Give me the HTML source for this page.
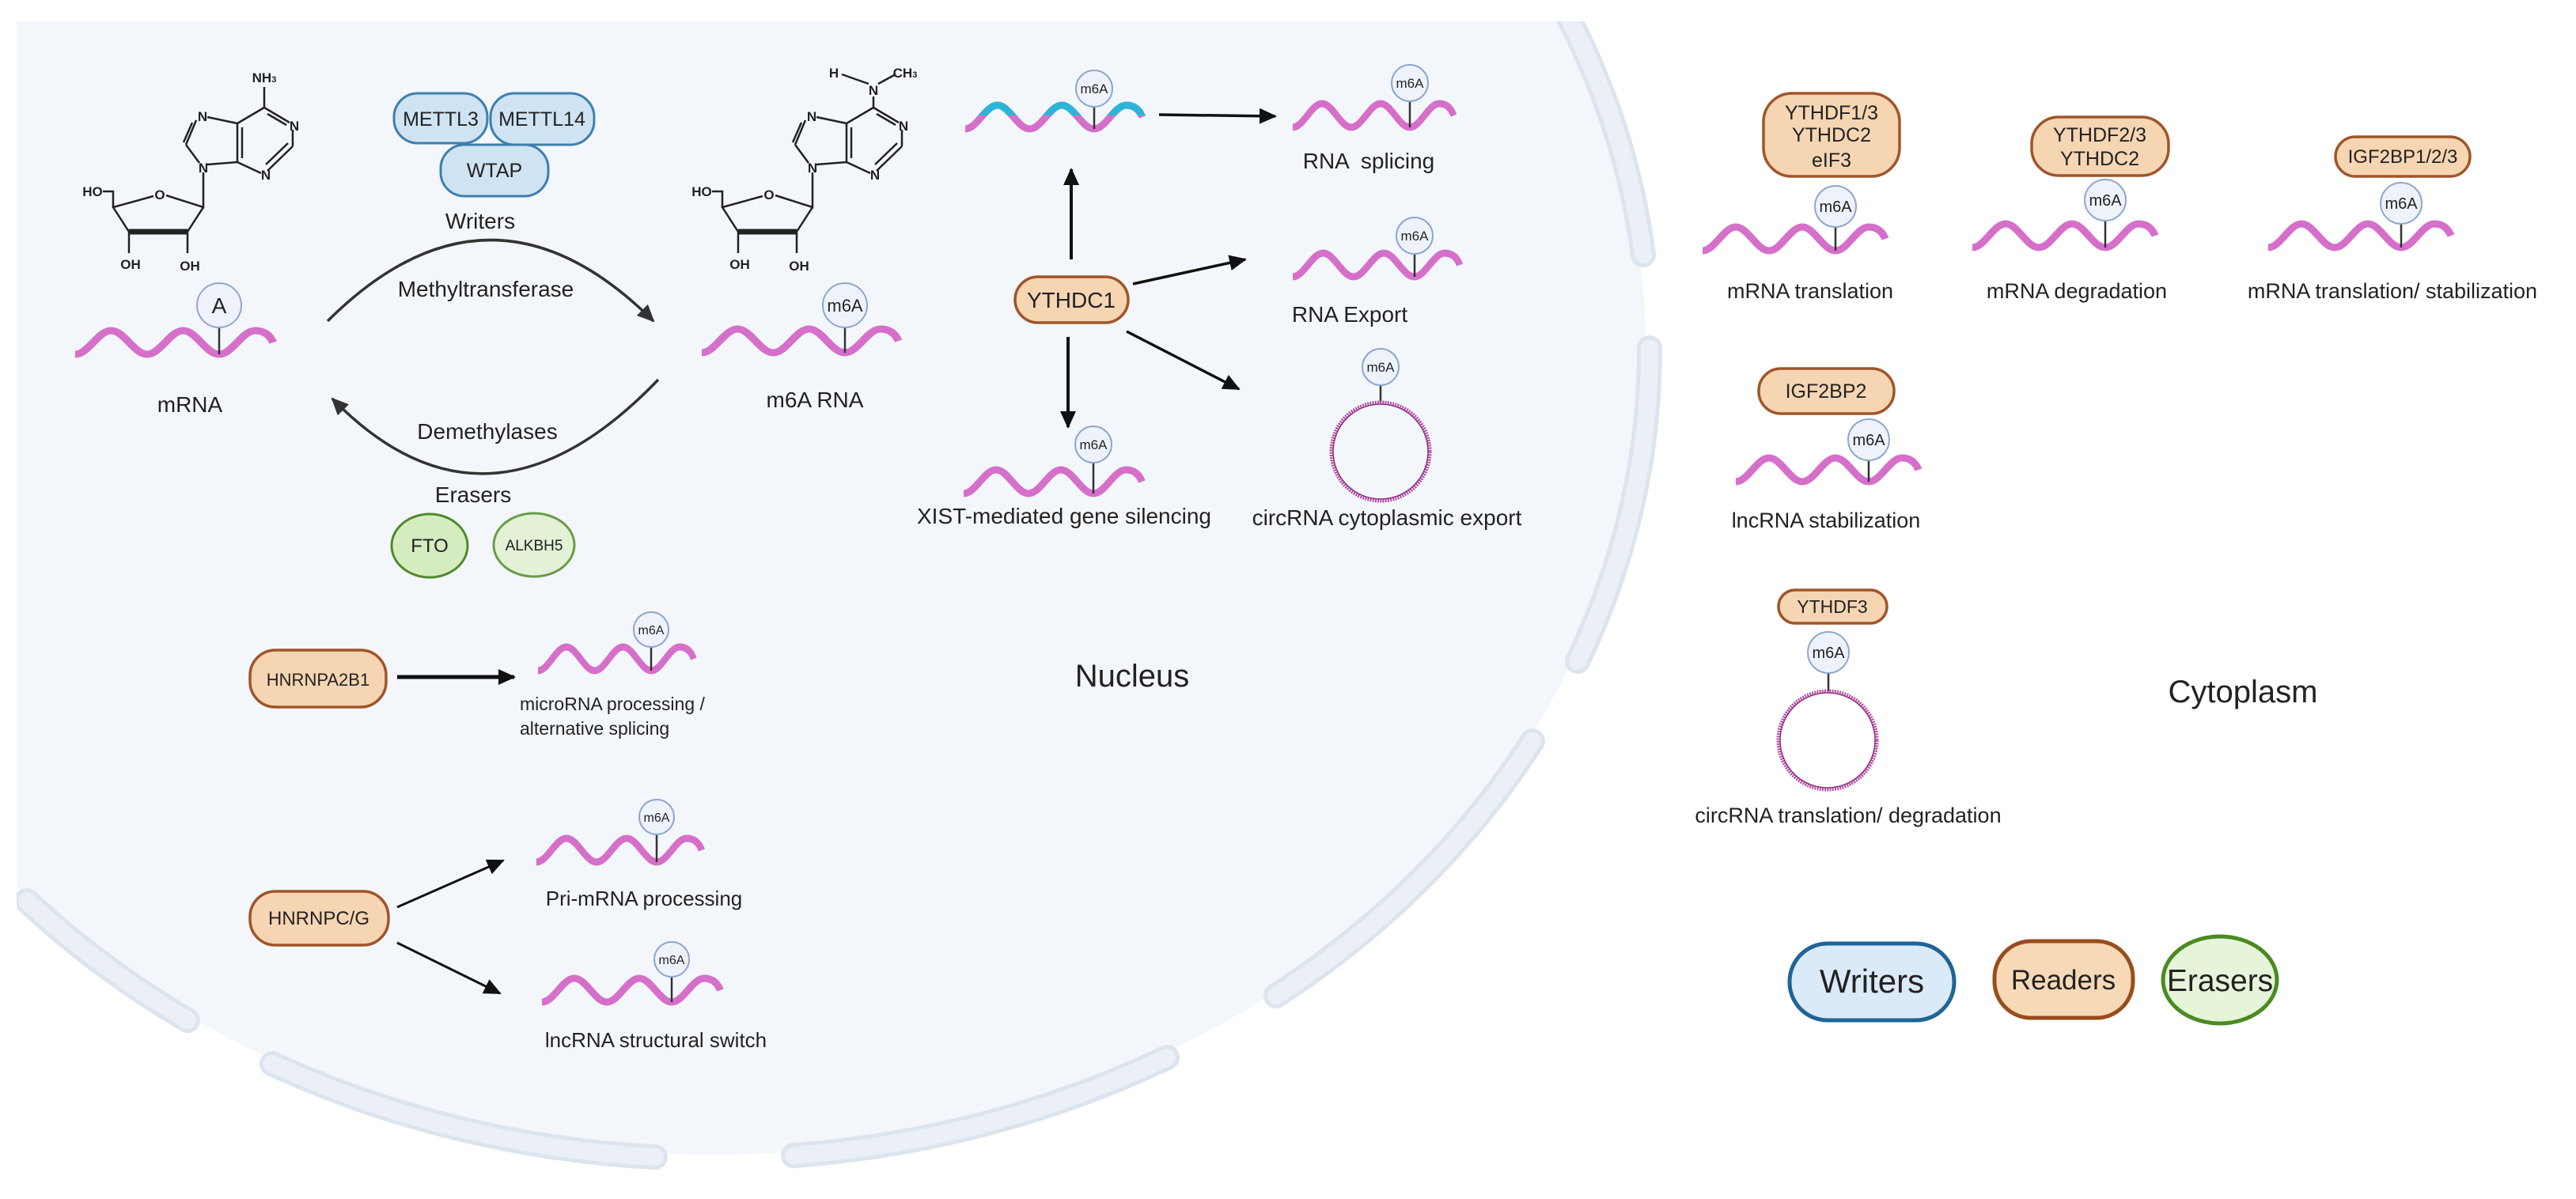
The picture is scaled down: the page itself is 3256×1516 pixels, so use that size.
<!DOCTYPE html>
<html><head><meta charset="utf-8"><style>
html,body{margin:0;padding:0;background:#fff;}
svg{display:block;}
text{font-family:"Liberation Sans",sans-serif;fill:#222;}
</style></head><body>
<svg width="3256" height="1516" viewBox="0 0 3256 1516" xmlns="http://www.w3.org/2000/svg">
<defs>
<clipPath id="nclip"><rect x="21" y="27" width="3235" height="1489"/></clipPath>
<clipPath id="upper"><rect x="-10" y="-40" width="260" height="38"/></clipPath>
<marker id="ah" markerUnits="userSpaceOnUse" markerWidth="26" markerHeight="22" refX="20" refY="10" orient="auto"><path d="M0,0 L22,10 L0,20 z" fill="#111"/></marker>
<marker id="ah2" markerUnits="userSpaceOnUse" markerWidth="26" markerHeight="22" refX="20" refY="10" orient="auto"><path d="M0,0 L22,10 L0,20 z" fill="#333"/></marker>
<path id="wv" d="M0 15 c14.4 0 25.6 -30 40 -30 s25.6 30 40 30 s25.6 -30 40 -30 s25.6 30 40 30 s25.6 -30 40 -30 q14 0 20 15"/>
</defs>

<!-- nucleus -->
<ellipse cx="900" cy="440" rx="1180" ry="1020" fill="#f3f7fb" clip-path="url(#nclip)"/>
<g fill="none" stroke-linecap="round" clip-path="url(#nclip)">
<g stroke="#dce5ee" stroke-width="32">
<path d="M237 1290 A1185 1025 0 0 1 34 1139"/>
<path d="M828 1463 A1185 1025 0 0 1 344 1345"/>
<path d="M1475 1337 A1185 1025 0 0 1 1003 1461"/>
<path d="M1937 937 A1185 1025 0 0 1 1613 1259"/>
<path d="M2085 440 A1185 1025 0 0 1 1994 836"/>
<path d="M1983 23 A1185 1025 0 0 1 2077 322"/>
</g>
<g stroke="#eaf0f5" stroke-width="22">
<path d="M237 1290 A1185 1025 0 0 1 34 1139"/>
<path d="M828 1463 A1185 1025 0 0 1 344 1345"/>
<path d="M1475 1337 A1185 1025 0 0 1 1003 1461"/>
<path d="M1937 937 A1185 1025 0 0 1 1613 1259"/>
<path d="M2085 440 A1185 1025 0 0 1 1994 836"/>
<path d="M1983 23 A1185 1025 0 0 1 2077 322"/>
</g>
</g>

<!-- chemical structures -->
<g id="chemL" stroke="#222" stroke-width="2.5" fill="none">
<path d="M300 156 L334 136 M334 136 L366 155 M338 144 L362 158 M370 164 L370 185 M370 185 L338 216 M364 181 L336 208 M330 219 L300 205 M300 205 L300 156 M306 200 L306 161 M300 156 L262 148 M248 152 L235 183 M243 155 L232 180 M235 183 L252 206 M262 208 L300 205 M334 136 L334 110"/>
<path d="M257 218 L257 262 L210 247 M194 248 L143 262 L163 293 M237 293 L257 262 M143 262 L143 242 L130 242 M163 293 L163 320 M237 293 L237 320"/>
<path d="M163 293 L237 293" stroke-width="7"/>
</g>
<g font-size="17" font-weight="bold" text-anchor="middle">
<text x="256" y="153">N</text><text x="372" y="165">N</text><text x="336" y="227">N</text><text x="257" y="218">N</text>
<text x="334" y="104">NH<tspan font-size="11">3</tspan></text>
<text x="202" y="252">O</text><text x="117" y="248">HO</text>
<text x="165" y="340">OH</text><text x="240" y="342">OH</text>
</g>
<g transform="translate(770,0)">
<g stroke="#222" stroke-width="2.5" fill="none">
<path d="M300 156 L334 136 M334 136 L366 155 M338 144 L362 158 M370 164 L370 185 M370 185 L338 216 M364 181 L336 208 M330 219 L300 205 M300 205 L300 156 M306 200 L306 161 M300 156 L262 148 M248 152 L235 183 M243 155 L232 180 M235 183 L252 206 M262 208 L300 205 M334 136 L334 122"/>
<path d="M328 106 L294 94 M340 106 L362 94"/>
<path d="M257 218 L257 262 L210 247 M194 248 L143 262 L163 293 M237 293 L257 262 M143 262 L143 242 L130 242 M163 293 L163 320 M237 293 L237 320"/>
<path d="M163 293 L237 293" stroke-width="7"/>
</g>
<g font-size="17" font-weight="bold" text-anchor="middle">
<text x="256" y="153">N</text><text x="372" y="165">N</text><text x="336" y="227">N</text><text x="257" y="218">N</text>
<text x="334" y="120">N</text><text x="284" y="98">H</text><text x="374" y="98">CH<tspan font-size="11">3</tspan></text>
<text x="202" y="252">O</text><text x="117" y="248">HO</text>
<text x="165" y="340">OH</text><text x="240" y="342">OH</text>
</g>
</g>

<!-- waves -->
<g fill="none" stroke="#d66fc9" stroke-width="9" stroke-linecap="butt">
<use href="#wv" transform="translate(95,433) scale(1.1375,1)"/>
<use href="#wv" transform="translate(887,431) scale(1.13,1)"/>
<use href="#wv" transform="translate(1220,148) scale(1.0175,1)"/>
<use href="#wv" transform="translate(1634,146) scale(0.925,1)"/>
<use href="#wv" transform="translate(1634,335) scale(0.96,1)"/>
<use href="#wv" transform="translate(1218,609) scale(1.025,1)"/>
<use href="#wv" transform="translate(680,833) scale(0.895,1)"/>
<use href="#wv" transform="translate(678,1075) scale(0.95,1)"/>
<use href="#wv" transform="translate(685,1252) scale(1.025,1)"/>
<use href="#wv" transform="translate(2152,302) scale(1.05,1)"/>
<use href="#wv" transform="translate(2493,298) scale(1.05,1)"/>
<use href="#wv" transform="translate(2867,298) scale(1.05,1)"/>
<use href="#wv" transform="translate(2194,594) scale(1.05,1)"/>
</g>
<g transform="translate(1220,148) scale(1.0175,1)" clip-path="url(#upper)">
<use href="#wv" fill="none" stroke="#2bb6d8" stroke-width="9"/>
</g>

<!-- stems -->
<g stroke="#333" stroke-width="2.5">
<path d="M277 414V448 M1068 414V446 M1383 135V163 M1782 128V161 M1788 321V350 M1382 585V624 M823 818V848 M830 1055V1090 M849 1235V1267 M2320 287V317 M2661 279V313 M3035 283V313 M2362 582V609 M2311 851V874 M1745 487V509"/>
</g>

<!-- circRNA -->
<g fill="none">
<circle cx="1745" cy="571" r="62" stroke="#b452a6" stroke-width="5" stroke-dasharray="2 1.2"/>
<circle cx="1745" cy="571" r="60" stroke="#8f2f80" stroke-width="1.5"/>
<circle cx="2310" cy="936" r="62" stroke="#b452a6" stroke-width="5" stroke-dasharray="2 1.2"/>
<circle cx="2310" cy="936" r="60" stroke="#8f2f80" stroke-width="1.5"/>
</g>

<!-- m6A circles -->
<g fill="#eef3fb" stroke="#8fa6cc" stroke-width="2">
<ellipse cx="277" cy="386" rx="28" ry="28"/>
<ellipse cx="1068" cy="386" rx="28" ry="28"/>
<circle cx="1383" cy="112" r="23"/>
<circle cx="1782" cy="105" r="23"/>
<circle cx="1788" cy="298" r="23"/>
<circle cx="1382" cy="562" r="23"/>
<circle cx="1745" cy="464" r="23"/>
<circle cx="823" cy="796" r="22"/>
<circle cx="830" cy="1033" r="22"/>
<circle cx="849" cy="1213" r="22"/>
<circle cx="2320" cy="261" r="26"/>
<circle cx="2661" cy="253" r="26"/>
<circle cx="3035" cy="257" r="26"/>
<circle cx="2362" cy="556" r="26"/>
<circle cx="2311" cy="825" r="26"/>
</g>
<g text-anchor="middle" font-size="17">
<text x="277" y="396" font-size="28">A</text>
<text x="1068" y="394" font-size="22">m6A</text>
<text x="1383" y="118">m6A</text>
<text x="1782" y="111">m6A</text>
<text x="1788" y="304">m6A</text>
<text x="1382" y="568">m6A</text>
<text x="1745" y="470">m6A</text>
<text x="823" y="802" font-size="16">m6A</text>
<text x="830" y="1039" font-size="16">m6A</text>
<text x="849" y="1219" font-size="16">m6A</text>
<text x="2320" y="268" font-size="20">m6A</text>
<text x="2661" y="260" font-size="20">m6A</text>
<text x="3035" y="264" font-size="20">m6A</text>
<text x="2362" y="563" font-size="20">m6A</text>
<text x="2311" y="832" font-size="20">m6A</text>
</g>

<!-- writers -->
<g fill="#cfe3f3" stroke="#3d7fae" stroke-width="3">
<rect x="557" y="183" width="136" height="65" rx="30"/>
<rect x="498" y="118" width="118" height="63" rx="30"/>
<rect x="620" y="118" width="131" height="65" rx="30"/>
</g>
<g text-anchor="middle" font-size="25">
<text x="557" y="159">METTL3</text>
<text x="685" y="159">METTL14</text>
<text x="625" y="224">WTAP</text>
</g>

<!-- erasers -->
<ellipse cx="543" cy="690" rx="48" ry="40" fill="#d5ecc0" stroke="#4f8a2a" stroke-width="3"/>
<ellipse cx="675" cy="689" rx="51" ry="40" fill="#e3f1d6" stroke="#6b9b4a" stroke-width="3"/>
<text x="543" y="698" text-anchor="middle" font-size="24">FTO</text>
<text x="675" y="696" text-anchor="middle" font-size="19">ALKBH5</text>

<!-- cycle arrows -->
<g fill="none" stroke="#333" stroke-width="3.5">
<path d="M414 406 Q620 201 826 406" marker-end="url(#ah2)"/>
<path d="M832 480 Q616 705 420 504" marker-end="url(#ah2)"/>
</g>

<!-- readers boxes -->
<g fill="#f6d5b3" stroke="#a0552a" stroke-width="3.5">
<rect x="1283" y="350" width="143" height="58" rx="29"/>
<rect x="316" y="822" width="172" height="72" rx="32"/>
<rect x="316" y="1127" width="175" height="68" rx="32"/>
<rect x="2229" y="118" width="172" height="105" rx="36"/>
<rect x="2568" y="148" width="173" height="74" rx="34"/>
<rect x="2952" y="173" width="170" height="50" rx="25"/>
<rect x="2223" y="466" width="171" height="57" rx="28"/>
<rect x="2248" y="746" width="137" height="42" rx="21"/>
</g>
<g text-anchor="middle">
<text x="1354" y="389" font-size="28">YTHDC1</text>
<text x="402" y="867" font-size="22" fill="#333">HNRNPA2B1</text>
<text x="403" y="1169" font-size="24">HNRNPC/G</text>
<text x="2315" y="151" font-size="25">YTHDF1/3</text>
<text x="2315" y="179" font-size="25">YTHDC2</text>
<text x="2315" y="211" font-size="25">eIF3</text>
<text x="2654" y="179" font-size="25">YTHDF2/3</text>
<text x="2654" y="209" font-size="25">YTHDC2</text>
<text x="3037" y="206" font-size="24">IGF2BP1/2/3</text>
<text x="2308" y="503" font-size="25">IGF2BP2</text>
<text x="2316" y="775" font-size="23">YTHDF3</text>
</g>

<!-- reader arrows -->
<g fill="none" stroke="#111" stroke-width="3.5">
<path d="M1465 145 L1612 147" marker-end="url(#ah)"/>
<path d="M1354 328 L1354 214" marker-end="url(#ah)" stroke-width="4"/>
<path d="M1350 426 L1350 540" marker-end="url(#ah)" stroke-width="4"/>
<path d="M1432 359 L1574 328" marker-end="url(#ah)"/>
<path d="M1424 419 L1566 492" marker-end="url(#ah)"/>
<path d="M502 856 L650 856" marker-end="url(#ah)" stroke-width="5"/>
<path d="M502 1147 L636 1088" marker-end="url(#ah)" stroke-width="3"/>
<path d="M502 1192 L632 1256" marker-end="url(#ah)" stroke-width="3"/>
</g>

<!-- labels -->
<g text-anchor="middle" font-size="28">
<text x="240" y="521">mRNA</text>
<text x="1030" y="515">m6A RNA</text>
<text x="607" y="289">Writers</text>
<text x="614" y="375">Methyltransferase</text>
<text x="616" y="555">Demethylases</text>
<text x="598" y="635">Erasers</text>
<text x="1730" y="213" xml:space="preserve">RNA  splicing</text>
<text x="1706" y="407">RNA Export</text>
<text x="1345" y="662">XIST-mediated gene silencing</text>
<text x="1753" y="664">circRNA cytoplasmic export</text>
<text x="814" y="1145" font-size="26">Pri-mRNA processing</text>
<text x="829" y="1324" font-size="26">lncRNA structural switch</text>
<text x="1431" y="868" font-size="40">Nucleus</text>
<text x="2288" y="377" font-size="27">mRNA translation</text>
<text x="2625" y="377" font-size="27">mRNA degradation</text>
<text x="3024" y="377" font-size="27">mRNA translation/ stabilization</text>
<text x="2308" y="667" font-size="27">lncRNA stabilization</text>
<text x="2336" y="1040" font-size="27">circRNA translation/ degradation</text>
<text x="2835" y="888" font-size="40">Cytoplasm</text>
</g>
<text x="657" y="898" font-size="23">microRNA processing /</text>
<text x="657" y="929" font-size="23">alternative splicing</text>

<!-- legend -->
<rect x="2262" y="1193" width="208" height="97" rx="48" fill="#dbeaf8" stroke="#1f6496" stroke-width="5"/>
<rect x="2521" y="1190" width="175" height="97" rx="46" fill="#f7d9b7" stroke="#9a4c1e" stroke-width="5"/>
<ellipse cx="2806" cy="1239" rx="72" ry="55" fill="#e6f4d9" stroke="#4a8a22" stroke-width="5"/>
<text x="2366" y="1255" text-anchor="middle" font-size="42">Writers</text>
<text x="2608" y="1251" text-anchor="middle" font-size="35">Readers</text>
<text x="2806" y="1253" text-anchor="middle" font-size="39">Erasers</text>
</svg>
</body></html>
